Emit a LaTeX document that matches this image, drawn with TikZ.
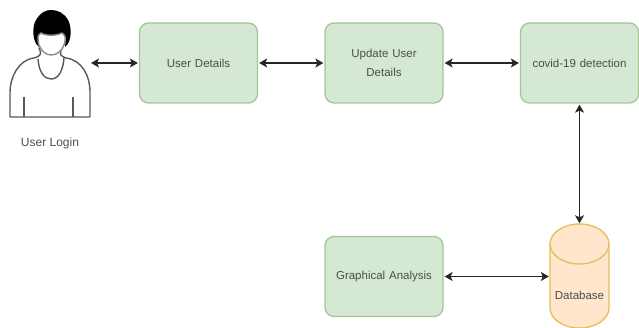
\documentclass[tikz,border=0pt]{standalone}
\usepackage{fontspec}
\setmainfont{Liberation Sans}
\usetikzlibrary{arrows.meta,positioning}
\definecolor{boxfill}{HTML}{D5E8D4}
\definecolor{boxline}{HTML}{A3C598}
\definecolor{dbfill}{HTML}{FFE6CC}
\definecolor{dbline}{HTML}{E6BE5A}
\definecolor{labeltext}{HTML}{4A4F4A}

\begin{document}
\begin{tikzpicture}[x=1pt,y=-1pt]

\tikzset{module/.style={fill=boxfill,draw=boxline,line width=1.3pt,rounded corners=9pt,inner sep=2pt,minimum width=118pt,minimum height=80pt,shape=rectangle,align=center,text width=100pt,font=\fontsize{11.5}{19}\selectfont,text=labeltext},
store/.style={fill=dbfill,draw=dbline,line width=1.3pt,line join=round},
storebox/.style={inner sep=0pt,minimum width=59pt,minimum height=104pt,shape=rectangle},
links/.style={{Stealth[length=8pt,width=9pt,inset=2pt]}-{Stealth[length=8pt,width=9pt,inset=2pt]},line width=1.3pt,black!85,shorten <=1pt,shorten >=1pt},
person/.style={draw=black!65,line width=1.4pt,fill=white,line join=round}}

\useasboundingbox (0,0) rectangle (639,328);

% User figure
\draw [person] (39,48) .. controls (42,54) and (41,56) .. (34,58) .. controls (18,60) and (10,78) .. (10,92) -- (10,117) -- (90,117) -- (90,92) .. controls (90,76) and (82,60) .. (66,58) .. controls (60,56) and (59,54) .. (62,48) -- cycle;
\draw [person] (38,59) .. controls (39,72) and (44,79) .. (51,79) .. controls (59,79) and (63,70) .. (64,58);
\draw [person] (24,97) -- (24,117);
\draw [person] (73,97) -- (73,117);
\fill [black] (39,47) .. controls (32,42) and (32,26) .. (36,20) .. controls (41,12) and (46,10) .. (51,10) .. controls (58,10) and (64,13) .. (68,20) .. controls (72,27) and (72,42) .. (65,47) .. controls (66,40) and (66,36) .. (62,33) .. controls (56,36) and (46,36) .. (41,33) .. controls (38,36) and (38,40) .. (39,47) -- cycle;
\draw [person,fill=white,draw=black!45] (39,45) .. controls (37,37) and (38,35) .. (41,33) .. controls (46,36) and (56,36) .. (62,33) .. controls (66,36) and (66,38) .. (64,45) .. controls (62,51) and (57,55) .. (51,55) .. controls (46,55) and (41,51) .. (39,45) -- cycle;
\node (login) at (50,143) [font=\fontsize{12}{14}\selectfont,text=labeltext,inner sep=0pt] {User Login};
\coordinate (figure) at (90,63);

% Database drum
\draw [store] (550,244) .. controls (550,233) and (563,224) .. (579.5,224) .. controls (596,224) and (609,233) .. (609,244) -- (609,308) .. controls (609,319) and (596,328) .. (579.5,328) .. controls (563,328) and (550,319) .. (550,308) -- cycle;
\draw [store,fill=none] (550,244) .. controls (550,255) and (563,264) .. (579.5,264) .. controls (596,264) and (609,255) .. (609,244);

% Modules
\node (details) at (198.5,63) [module] {User Details};
\node (update) [right=66.2pt of details,module] {Update User\\Details};
\node (covid) [right=76.2pt of update,module] {covid-19 detection};
\node (graph) [below=132.2pt of update,module] {Graphical Analysis};
\node (db) at (covid |- graph) [storebox] {};
\node (dbtext) at ([yshift=-19pt]db.center) [font=\fontsize{11.5}{14}\selectfont,text=labeltext,inner sep=0pt] {Database};

% Arrows between modules
\draw [links] (figure) -- (details);
\draw [links] (details) -- (update);
\draw [links] (update) -- (covid);
\draw [links] (covid) -- (db);
\draw [links] (graph) -- (db);

\end{tikzpicture}
\end{document}
